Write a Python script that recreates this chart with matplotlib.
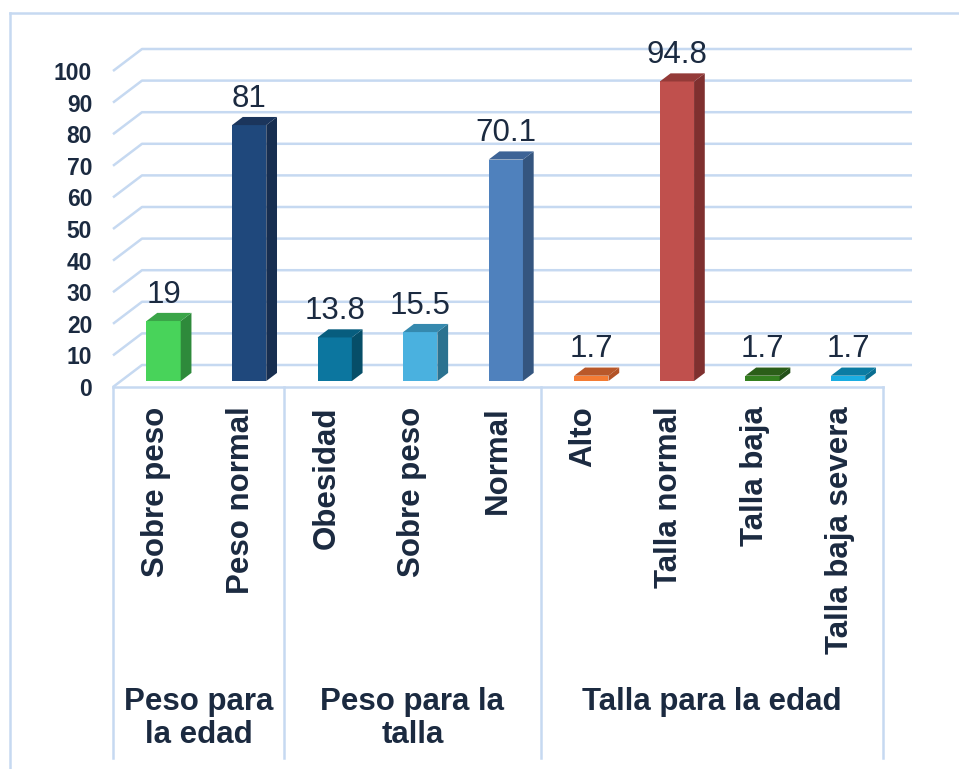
import matplotlib
matplotlib.use("Agg")
import matplotlib.pyplot as plt
from matplotlib.patches import Polygon
from matplotlib.lines import Line2D

plt.rcParams['font.family'] = ['Liberation Sans', 'DejaVu Sans']

# ---- data ----
categories = ["Sobre peso", "Peso normal", "Obesidad", "Sobre peso", "Normal",
              "Alto", "Talla normal", "Talla baja", "Talla baja severa"]
values = [19, 81, 13.8, 15.5, 70.1, 1.7, 94.8, 1.7, 1.7]
value_labels = ["19", "81", "13.8", "15.5", "70.1", "1.7", "94.8", "1.7", "1.7"]
groups = ["Peso para\nla edad", "Peso para la\ntalla", "Talla para la edad"]
group_sizes = [2, 3, 4]
yticks = list(range(0, 101, 10))

# colours: front, side, top
front_colors = ["#48D35A", "#1F487C", "#0C769F", "#4AB1DF", "#4F81BD",
                "#F47B33", "#C0504D", "#34801F", "#1AADE2"]
side_colors = ["#2E8A3B", "#172E50", "#064E68", "#2B7290", "#34557F",
               "#B35327", "#7F302F", "#24511A", "#0A6E91"]
top_colors = ["#3AA548", "#1B355C", "#075D7E", "#3589AE", "#3D6396",
              "#B9582A", "#943A38", "#2B5E18", "#0B7CA3"]

text_color = "#1B2A40"
grid_color = "#C6D9F1"

W, H, DPI = 959, 769, 100
fig = plt.figure(figsize=(W / DPI, H / DPI), dpi=DPI)
fig.patch.set_facecolor("white")

# axes = front floor rectangle (value 0..100)
left_px, right_px = 113, 883
y0_px, y100_px = 387, 71
ax = fig.add_axes([left_px / W, (H - y0_px) / H,
                   (right_px - left_px) / W, (y0_px - y100_px) / H])
n = len(categories)
ax.set_xlim(0, n)
ax.set_ylim(0, 100)
for s in ax.spines.values():
    s.set_visible(False)
ax.set_facecolor("none")

# 3D perspective offsets (full depth) in data units
DX = 29 / ((right_px - left_px) / n)
DY = 22 / ((y0_px - y100_px) / 100)

# back wall gridlines
for v in yticks:
    ax.plot([0, DX, n + DX], [v, v + DY, v + DY], color=grid_color, lw=1.8,
            clip_on=False, zorder=1, solid_capstyle='butt')
# floor front edge
ax.plot([0, n], [0, 0], color=grid_color, lw=1.8, clip_on=False, zorder=1)

# bars
f0 = 0.27
bd = 0.37
bw = 0.40
bdx, bdy = bd * DX, bd * DY
for i, v in enumerate(values):
    x0 = i + 0.3 + f0 * DX
    yb = f0 * DY
    yt = yb + v
    front = Polygon([(x0, yb), (x0 + bw, yb), (x0 + bw, yt), (x0, yt)],
                    closed=True, fc=front_colors[i], ec="none", clip_on=False, zorder=3)
    side = Polygon([(x0 + bw, yb), (x0 + bw + bdx, yb + bdy), (x0 + bw + bdx, yt + bdy),
                    (x0 + bw, yt)], closed=True, fc=side_colors[i], ec="none",
                   clip_on=False, zorder=3)
    top = Polygon([(x0, yt), (x0 + bdx, yt + bdy), (x0 + bw + bdx, yt + bdy),
                   (x0 + bw, yt)], closed=True, fc=top_colors[i], ec="none",
                  clip_on=False, zorder=3)
    for p in (front, side, top):
        ax.add_patch(p)
    ax.text(x0 + bw / 2, yt + bdy + 3.2, value_labels[i], ha="center", va="baseline",
            fontsize=22.5, color=text_color, zorder=4, clip_on=False)

# y ticks
ax.set_yticks(yticks)
ax.set_yticklabels([str(t) for t in yticks], fontsize=16.5, fontweight="bold",
                   color=text_color)
ax.tick_params(axis="y", length=0, pad=15)

# x ticks (category labels)
ax.set_xticks([i + 0.5 for i in range(n)])
ax.set_xticklabels(categories, rotation=90, fontsize=22.5, fontweight="bold",
                   color=text_color, va="top")
ax.tick_params(axis="x", length=0, pad=14)

# group separators and labels
px_per_val = (y0_px - y100_px) / 100
bottom_val = -(758 - y0_px) / px_per_val
bounds = [0]
for g in group_sizes:
    bounds.append(bounds[-1] + g)
for b in bounds:
    ax.plot([b, b], [0, bottom_val], color=grid_color, lw=1.8, clip_on=False, zorder=1)
group_top_val = -(687 - y0_px) / px_per_val
for gi, g in enumerate(groups):
    cx = (bounds[gi] + bounds[gi + 1]) / 2
    ax.text(cx, group_top_val, g, ha="center", va="top", fontsize=22.5,
            fontweight="bold", color=text_color, clip_on=False, linespacing=1.15)

# outer chart border (top and left visible)
fig.add_artist(Line2D([9.5 / W, 1.0], [1 - 12.5 / H, 1 - 12.5 / H],
                      transform=fig.transFigure, color=grid_color, lw=1.8))
fig.add_artist(Line2D([9.5 / W, 9.5 / W], [0, 1 - 12.5 / H],
                      transform=fig.transFigure, color=grid_color, lw=1.8))

fig.savefig("out.png", dpi=DPI, facecolor="white")
